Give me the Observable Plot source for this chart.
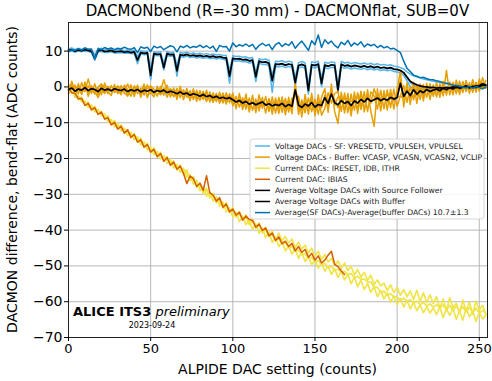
<!DOCTYPE html>
<html><head><meta charset="utf-8">
<script src="https://cdn.jsdelivr.net/npm/d3@7"></script>
<script src="https://cdn.jsdelivr.net/npm/@observablehq/plot@0.6"></script>
<style>html,body{margin:0;padding:0;background:#fff;} svg{display:block}</style>
</head><body><div id="chart"></div>
<script>
// ---- DATA ----
const dac = [0,2,4,6,8,10,12,14,16,18,20,22,24,26,28,30,
32,34,36,38,40,42,44,46,48,50,52,54,56,58,60,62,
64,66,68,70,72,74,76,78,80,82,84,86,88,90,92,94,
96,98,100,102,104,106,108,110,112,114,116,118,120,122,124,126,
128,130,132,134,136,138,140,142,144,146,148,150,152,154,156,158,
160,162,164,166,168,170,172,174,176,178,180,182,184,186,188,190,
192,194,196,198,200,202,204,206,208,210,212,214,216,218,220,222,
224,226,228,230,232,234,236,238,240,242,244,246,248,250,252,254];

const sfVRESETD = [10.6,10.9,10.4,10.8,10.5,10.9,10.6,10.3,9.0,10.5,10.8,10.3,10.5,10.7,10.2,10.4,
10.5,10.1,10.4,10.0,10.3,8.5,10.1,9.9,10.0,5.0,9.8,9.6,9.8,6.5,9.9,9.5,
9.7,6.0,9.6,9.4,9.7,9.3,9.5,9.2,9.4,9.1,9.3,9.0,9.2,8.9,9.1,8.8,
8.8,4.5,8.7,8.5,8.6,8.3,8.4,8.0,8.2,4.0,7.9,7.6,7.8,7.4,3.2,7.2,
7.1,7.3,6.9,7.2,7.0,2.5,6.8,7.1,6.7,0.5,7.0,6.8,7.2,2.3,6.9,6.6,
7.0,6.8,0.5,7.1,6.7,6.9,6.5,6.8,6.6,6.4,6.7,6.3,6.6,6.2,6.5,6.1,
6.3,6.0,6.2,5.8,5.7,5.4,5.0,4.2,3.6,3.1,2.8,2.5,2.2,2.0,1.8,1.6,
1.4,1.2,1.0,0.9,0.6,0.7,0.4,0.5,0.2,0.4,0.1,0.0,0.3,0.1,0.4,0.3];
const sfVPULSEH = [10.1,10.3,9.9,10.2,10.0,10.3,10.1,9.8,7.5,10.0,10.2,9.8,9.9,10.1,9.7,9.8,
9.9,9.6,9.8,9.5,9.7,7.0,9.5,9.3,9.4,2.5,9.2,9.0,9.1,5.0,9.2,8.9,
9.0,4.0,8.9,8.7,9.0,8.6,8.8,8.5,8.7,8.4,8.6,8.3,8.5,8.2,8.4,8.1,
8.0,2.5,7.9,7.7,7.8,7.5,7.6,7.2,7.4,2.3,7.1,6.8,6.9,6.5,1.3,6.3,
6.2,6.4,6.0,6.3,6.1,0.8,5.9,6.2,5.8,-1.5,6.1,5.9,6.3,0.6,6.0,5.7,
6.1,5.9,-1.3,6.2,5.8,6.0,5.6,5.9,5.7,5.5,5.8,5.4,5.7,5.3,5.6,5.2,
5.4,5.1,5.3,4.9,4.8,4.5,3.8,2.5,1.2,0.4,0.2,-0.1,-0.2,-0.3,-0.4,-0.3,
-0.5,-0.3,-0.6,-0.2,-0.4,-0.1,-0.3,0.0,-0.2,0.1,-0.1,-0.2,0.2,0.0,0.5,0.3];
const sfVPULSEL = [9.9,10.0,9.7,10.0,9.8,10.0,9.9,9.6,7.5,9.8,9.9,9.6,9.6,9.8,9.5,9.5,
9.6,9.4,9.5,9.3,9.4,6.5,9.2,9.0,9.1,2.0,8.9,8.7,8.7,4.7,8.8,8.6,
8.6,3.0,8.5,8.3,8.6,8.2,8.4,8.1,8.3,8.0,8.2,7.9,8.1,7.8,8.0,7.7,
7.5,1.0,7.4,7.2,7.3,7.0,7.1,6.7,6.9,1.5,6.6,6.3,6.3,5.9,-1.5,5.7,
5.6,5.8,5.4,5.7,5.5,0.3,5.3,5.6,5.2,-2.0,5.5,5.3,5.7,0.1,5.4,5.1,
5.5,5.3,-1.6,5.6,5.2,5.4,5.0,5.3,5.1,4.9,5.2,4.8,5.1,4.7,5.0,4.6,
4.8,4.5,4.7,4.3,4.2,3.9,3.2,1.7,0.0,-0.5,-1.0,-0.7,-0.5,-0.6,-0.8,-0.6,
-0.7,-0.5,-0.9,-0.4,-0.6,-0.3,-0.5,-0.2,-0.4,0.0,-0.3,-0.4,0.1,-0.2,0.6,0.4];

const bufVCASP = [0.8,-1.5,0.5,-2.0,1.2,-1.1,0.3,-1.8,0.9,-2.4,0.6,-0.2,-1.9,0.4,-1.6,0.1,
-2.2,0.5,-0.8,-2.6,0.3,-1.9,-0.4,-2.3,0.6,-1.5,-2.8,0.2,-2.1,-0.3,-2.9,-0.5,
-2.6,-0.4,-3.0,-0.8,-2.9,-1.0,-3.5,-0.9,-3.8,-1.2,-4.1,-1.4,-4.3,-1.8,-4.6,-1.7,
-4.8,-1.9,-5.3,-2.6,-5.6,-3.0,-6.2,-3.1,-6.5,-3.4,-6.7,-2.9,-7.3,-3.2,-7.6,-3.1,
-7.4,-2.8,-7.8,-2.9,-7.5,1.2,-7.7,-3.6,-7.2,-3.1,-6.9,-3.4,-7.6,-2.9,-0.5,-7.1,
0.8,-6.9,-10.2,-1.5,-7.3,-1.8,-8.1,-1.4,-7.4,-1.2,-7.0,-0.8,-6.8,-11.0,-0.6,-6.7,
-1.0,-6.5,-0.7,-6.2,-0.8,4.5,-5.6,1.2,-4.9,1.3,-4.6,0.8,-3.9,1.0,-3.5,0.6,
-2.8,0.9,-2.5,4.6,-2.2,1.3,-1.9,1.6,-1.6,1.8,-1.8,2.0,-1.5,2.2,-0.6,1.8];
const bufVCASN = [-1.9,0.6,-2.8,0.9,-2.1,1.4,-2.6,0.3,-1.4,-0.2,-2.2,1.1,-1.3,-2.4,0.7,-1.7,
0.4,-1.8,-2.4,0.6,-2.7,0.5,-2.9,0.4,-3.0,0.2,-0.6,-2.6,0.1,-2.3,0.5,-2.8,
-0.3,-3.5,0.2,-3.6,-0.4,-3.9,-0.5,-4.0,-1.0,-3.5,-0.9,-4.2,-1.6,-4.1,-1.5,-4.5,
-1.6,-4.4,-1.7,-6.1,-1.8,-6.3,-2.0,-7.0,-2.3,-7.2,-2.2,-6.0,-2.7,-6.9,-2.8,-7.3,
-2.9,-7.1,-3.2,-7.0,-3.1,-2.4,-2.6,-8.4,-2.1,-7.6,-1.8,-8.0,-2.2,-7.9,-6.0,-1.6,
-4.5,-1.9,-1.2,-6.8,-1.7,-7.2,-2.0,-6.5,-1.6,-6.3,-1.3,-6.9,-1.4,-2.5,-6.2,-0.9,
-6.1,-0.8,-5.8,-0.6,-5.4,-2.5,0.4,-4.3,0.1,-3.6,0.6,-3.5,0.7,-2.9,0.9,-2.6,
1.2,-2.9,1.6,-2.3,1.4,-2.2,1.9,-2.1,1.5,-1.3,1.2,-1.5,1.3,-1.2,2.6,-0.4];
const bufVCASN2 = [0.3,-0.9,-0.4,0.2,-1.8,0.6,-1.5,-0.3,-2.0,-0.1,0.9,-1.7,-0.2,-0.8,-1.2,0.3,
-0.6,-1.1,0.8,-1.4,-0.2,0.1,-2.0,-1.2,-0.5,0.3,-1.8,-0.4,-1.0,2.0,-1.1,-0.6,
-1.2,-2.6,-0.9,-1.5,-2.1,-1.4,-2.8,-1.7,-2.0,-2.9,-1.8,-3.1,-2.2,-3.4,-2.5,-3.0,
-2.7,-3.8,-3.0,-4.3,-3.4,-5.0,-3.6,-5.4,-4.2,-5.6,-4.0,-4.9,-4.6,-5.8,-4.4,-5.2,
-4.6,-5.5,-4.8,-4.2,-5.9,-0.3,-4.4,-6.4,-4.0,-5.8,-3.6,-6.9,-4.1,-5.8,-2.3,-3.9,
-1.5,-3.6,-5.8,-4.1,-3.2,-4.9,-3.9,-4.4,-2.6,-5.1,-3.3,-2.8,-4.4,-3.4,-2.1,-4.6,
-2.5,-4.2,-1.9,-3.9,-2.6,2.0,-3.1,-0.7,-2.9,-0.3,-2.4,-1.6,-1.0,-0.2,-1.7,-0.5,
-0.2,-1.4,0.3,-0.6,-0.7,-0.1,0.5,-0.9,0.2,0.6,-0.8,0.7,-0.4,1.1,1.0,0.5];
const bufVCLIP = [-1.8,1.6,-1.5,-0.4,-0.6,-1.3,2.2,-1.1,-1.2,-3.0,-0.8,-1.8,0.2,-1.2,-0.6,-1.8,
-1.4,-0.2,-2.6,-0.8,-1.6,-0.9,-1.2,0.8,-2.6,-1.5,-1.6,-0.9,-2.2,-1.0,-0.9,-1.5,
-2.7,-1.3,-1.9,-2.1,-2.2,-3.3,-1.2,-3.0,-3.4,-2.2,-3.8,-1.9,-4.1,-2.6,-4.0,-3.5,
-4.1,-2.5,-4.4,-4.0,-4.2,-3.9,-5.1,-4.6,-4.5,-4.6,-5.4,-4.0,-5.2,-3.6,-6.2,-4.2,
-5.9,-3.2,-6.1,-5.5,-5.1,-1.1,-6.4,-4.7,-5.7,-4.9,-5.3,-4.1,-5.6,-4.3,-3.3,-5.8,
-1.2,-5.2,-2.8,-2.9,-6.2,-2.5,-7.0,-3.3,-6.1,-1.5,-6.5,-2.4,-4.5,-0.5,-3.5,-3.1,
-3.0,-2.1,-3.4,-3.0,-2.8,-2.6,-3.1,-1.3,-1.8,-2.6,-1.0,0.0,-2.6,-0.7,-1.2,-1.9,
-1.3,-0.8,-1.8,-0.7,-0.1,-0.9,-0.6,-0.3,-1.0,0.8,-0.9,0.4,0.6,-0.8,0.4,0.2];

const curIRESET = [-0.2,-1.8,-1.5,-3.6,-2.8,-5.0,-4.2,-6.5,-5.4,-7.6,-6.8,-8.9,-8.0,-10.5,-9.3,-11.6,
-10.6,-12.9,-11.9,-14.2,-13.0,-15.5,-14.3,-16.9,-15.7,-18.4,-17.0,-19.6,-18.2,-20.7,-19.4,-22.0,
-20.6,-23.2,-21.8,-24.5,-23.1,-26.2,-25.0,-28.0,-26.8,-29.7,-28.3,-31.0,-29.7,-32.4,-31.0,-33.9,
-32.3,-35.1,-33.7,-36.4,-34.8,-37.3,-35.7,-38.4,-36.9,-39.5,-38.0,-40.8,-39.2,-41.9,-40.3,-43.0,
-40.8,-42.9,-41.8,-43.6,-42.5,-44.8,-43.4,-45.3,-44.2,-46.5,-45.0,-47.3,-45.9,-48.2,-46.8,-48.9,
-47.9,-49.8,-48.6,-50.7,-49.2,-51.3,-50.1,-52.5,-51.0,-53.1,-51.8,-54.0,-52.6,-55.2,-53.9,-55.6,
-54.8,-56.9,-55.3,-57.5,-56.0,-58.2,-56.6,-58.6,-57.0,-59.4,-56.8,-59.9,-57.5,-60.3,-58.1,-60.5,
-58.6,-61.8,-59.2,-62.5,-58.9,-61.6,-60.4,-63.0,-59.5,-62.8,-60.1,-63.5,-59.8,-62.4,-61.0,-63.6];
const curIDB = [-1.0,-0.9,-2.6,-2.4,-4.2,-3.9,-5.8,-5.0,-7.0,-6.3,-8.1,-7.5,-9.8,-9.1,-11.2,-10.3,
-12.3,-11.5,-13.6,-12.7,-14.8,-13.9,-16.2,-15.3,-17.6,-16.8,-18.9,-18.0,-20.1,-19.2,-21.4,-20.3,
-22.6,-21.6,-23.8,-22.7,-25.3,-24.5,-27.2,-26.1,-29.0,-27.9,-30.5,-29.2,-31.9,-30.7,-33.3,-32.1,
-34.9,-33.8,-36.4,-35.0,-37.6,-36.1,-38.5,-37.2,-39.8,-38.2,-40.9,-39.4,-42.1,-40.5,-43.4,-42.0,
-44.6,-43.3,-45.8,-44.4,-46.7,-45.2,-47.9,-46.1,-48.8,-47.3,-49.7,-48.2,-50.6,-49.1,-51.5,-50.0,
-52.4,-50.8,-53.2,-51.6,-53.9,-52.3,-55.0,-53.1,-55.8,-54.0,-56.6,-54.9,-57.4,-55.8,-58.6,-56.9,
-59.2,-57.6,-60.1,-58.4,-60.8,-59.1,-61.5,-59.6,-62.0,-60.2,-62.5,-60.9,-63.1,-61.4,-63.2,-61.8,
-63.6,-61.4,-64.5,-62.0,-63.8,-61.9,-64.9,-62.6,-65.2,-61.8,-64.3,-62.7,-65.5,-63.0,-64.8,-63.7];
const curITHR = [-0.8,-1.0,-2.4,-2.6,-3.4,-4.8,-4.6,-6.0,-6.0,-7.2,-7.0,-8.8,-8.6,-10.1,-10.0,-11.3,
-11.2,-12.6,-12.4,-13.8,-13.6,-15.1,-15.0,-16.5,-16.4,-17.9,-17.7,-19.0,-18.9,-20.3,-20.1,-21.5,
-21.3,-22.7,-22.4,-23.9,-23.9,-25.8,-25.7,-27.5,-27.6,-29.1,-29.0,-30.5,-30.4,-31.9,-31.8,-33.3,
-33.2,-34.7,-34.6,-35.9,-35.6,-36.9,-36.6,-37.9,-37.7,-39.1,-38.9,-40.3,-40.1,-41.5,-41.3,-42.7,
-42.5,-43.9,-43.6,-44.9,-44.6,-45.9,-45.6,-46.9,-46.6,-47.9,-47.6,-48.9,-48.5,-49.7,-49.3,-50.5,
-50.1,-51.3,-50.9,-51.7,-51.5,-52.5,-52.1,-53.3,-52.9,-53.7,-53.7,-54.5,-54.5,-55.9,-56.0,-57.4,
-57.0,-58.2,-57.8,-58.6,-58.6,-59.6,-59.0,-60.0,-59.4,-60.4,-59.8,-60.8,-60.2,-61.2,-60.6,-61.5,
-60.8,-61.7,-60.9,-62.3,-61.0,-62.4,-61.2,-62.6,-61.4,-62.8,-61.6,-63.0,-61.8,-63.2,-62.4,-63.3];
const curIBIAS = [-0.3,-1.6,-1.8,-3.3,-3.2,-5.2,-4.6,-6.4,-5.8,-7.7,-7.0,-9.0,-8.6,-10.6,-9.9,-11.8,
-11.0,-12.9,-12.0,-14.1,-13.3,-15.4,-14.8,-16.8,-16.1,-18.2,-17.4,-19.5,-18.6,-20.8,-19.7,-21.9,
-21.0,-23.0,-22.1,-24.2,-27.0,-24.9,-25.6,-27.8,-26.9,-28.9,-24.8,-29.6,-30.2,-31.9,-31.0,-33.6,
-32.7,-34.9,-34.1,-35.8,-35.0,-37.2,-36.1,-37.0,-37.3,-39.2,-38.3,-40.1,-39.4,-41.6,-40.8,-42.9,
-41.9,-43.8,-43.1,-44.6,-43.7,-45.8,-44.6,-46.2,-45.4,-47.6,-46.5,-48.4,-47.2,-49.2,-48.4,-47.0,
-45.9,-49.6,-50.2,-51.4,-52.4];

const avgSF = [10.2,10.4,10.0,10.3,10.1,10.4,10.2,9.9,8.0,10.1,10.3,9.9,10.0,10.2,9.8,9.9,
10.0,9.7,9.9,9.6,9.8,7.5,9.6,9.4,9.5,3.2,9.3,9.1,9.2,5.4,9.3,9.0,
9.1,4.5,9.0,8.8,9.1,8.7,8.9,8.6,8.8,8.5,8.7,8.4,8.6,8.3,8.5,8.2,
8.1,3.0,8.0,7.8,7.9,7.6,7.7,7.3,7.5,2.8,7.2,6.9,7.0,6.6,1.8,6.4,
6.3,6.5,6.1,6.4,6.2,1.2,6.0,6.3,5.9,-1.0,6.2,6.0,6.4,1.0,6.1,5.8,
6.2,6.0,-0.8,6.3,5.9,6.1,5.7,6.0,5.8,5.6,5.9,5.5,5.8,5.4,5.7,5.3,
5.5,5.2,5.4,5.0,4.9,4.6,4.0,2.8,1.6,1.0,0.6,0.3,0.1,0.0,-0.2,-0.1,
-0.3,-0.2,-0.4,-0.1,-0.3,0.0,-0.2,0.1,-0.1,0.2,0.0,-0.1,0.3,0.1,0.5,0.4];
const avgBuf = [-0.8,-0.3,-1.2,-0.6,-0.9,-0.2,-1.0,-0.5,-0.7,-1.3,-0.4,-0.9,-0.6,-1.1,-0.5,-0.8,
-1.0,-0.6,-1.3,-0.8,-1.1,-0.7,-1.4,-0.9,-1.2,-0.8,-1.5,-1.0,-1.3,-0.9,-1.6,-1.2,
-1.5,-1.9,-1.4,-2.0,-1.7,-2.3,-1.9,-2.2,-2.6,-2.1,-2.7,-2.4,-3.0,-2.6,-3.2,-2.9,
-3.3,-3.0,-3.6,-4.2,-3.8,-4.5,-4.1,-4.8,-4.4,-5.0,-4.6,-4.2,-5.1,-4.7,-5.3,-4.9,
-5.2,-4.6,-5.5,-4.9,-5.4,-0.8,-5.1,-5.7,-4.8,-5.3,-4.4,-5.6,-4.9,-5.2,-3.0,-4.6,
-2.0,-4.4,-5.0,-3.8,-4.6,-4.1,-5.2,-3.9,-4.5,-3.5,-4.2,-3.2,-4.0,-3.6,-3.1,-3.8,
-3.3,-3.7,-2.9,-3.4,-3.0,1.0,-2.6,-1.2,-2.4,-0.8,-2.0,-1.1,-1.6,-0.7,-1.3,-0.9,
-0.6,-1.1,-0.3,-0.8,-0.2,-0.6,0.1,-0.4,-0.1,0.3,-0.3,0.2,-0.2,0.4,0.9,0.6];
const diffSFBuf = [9.8,10.4,10.2,10.7,10.3,10.9,10.5,10.6,7.8,10.8,10.4,11.0,10.6,10.9,10.4,10.8,
10.6,11.1,10.7,10.5,11.0,9.6,11.2,10.8,11.1,9.9,11.4,10.9,11.3,10.4,11.0,11.5,
11.2,9.8,11.4,11.0,11.6,10.9,11.3,11.1,11.7,11.0,11.5,10.8,11.4,9.9,11.6,11.2,
11.3,10.0,12.3,11.2,11.8,11.4,12.0,11.3,11.9,10.5,11.6,12.2,11.5,11.9,10.4,11.8,
12.4,11.3,12.1,11.6,12.6,10.8,11.9,12.8,11.5,10.2,12.9,11.8,14.5,11.0,13.2,12.1,
12.8,11.6,10.9,12.5,11.8,13.0,11.4,12.3,11.7,12.6,11.2,12.0,11.5,11.9,11.0,11.6,
10.9,11.3,10.6,10.8,10.2,9.6,7.2,5.2,4.3,3.3,3.0,2.6,2.7,2.3,2.1,2.0,
1.7,1.5,1.2,1.0,0.8,0.5,0.4,0.2,0.0,-0.3,0.2,-0.4,0.1,-0.2,-0.5,-0.1];

const xTicks = [0, 50, 100, 150, 200, 250];
const yTicks = [-70, -60, -50, -40, -30, -20, -10, 0, 10];
const legendLabels = [
  "Voltage DACs - SF: VRESETD, VPULSEH, VPULSEL",
  "Voltage DACs - Buffer: VCASP, VCASN, VCASN2, VCLIP",
  "Current DACs: IRESET, IDB, ITHR",
  "Current DAC: IBIAS",
  "Average Voltage DACs with Source Follower",
  "Average Voltage DACs with Buffer",
  "Average(SF DACs)-Average(buffer DACs) 10.7±1.3"
];
const legendColors = ["#56B4E9", "#E69F00", "#F0E442", "#D55E00", "#000000", "#000000", "#0072B2"];
const titleText = "DACMONbend (R=-30 mm) - DACMONflat, SUB=0V";
const xLabel = "ALPIDE DAC setting (counts)";
const yLabel = "DACMON difference, bend-flat (ADC counts)";

// ---- BUILD ----
function rows(vals, name) { return vals.map((v, i) => ({x: dac[i], y: v, s: name})); }
const sfRows = [...rows(sfVRESETD, "VRESETD"), ...rows(sfVPULSEH, "VPULSEH"), ...rows(sfVPULSEL, "VPULSEL")];
const bufRows = [...rows(bufVCASP, "VCASP"), ...rows(bufVCASN, "VCASN"), ...rows(bufVCASN2, "VCASN2"), ...rows(bufVCLIP, "VCLIP")];
const curRows = [...rows(curIRESET, "IRESET"), ...rows(curIDB, "IDB"), ...rows(curITHR, "ITHR")];
const ibRows = rows(curIBIAS, "IBIAS");
const avgSFRows = rows(avgSF, "avgSF");
const avgBufRows = rows(avgBuf, "avgBuf");
const diffRows = rows(diffSFBuf, "diff");

const W = 492, H = 381, mL = 68, mR = 5, mT = 22, mB = 44;
const chart = Plot.plot({
  width: W, height: H,
  marginLeft: mL, marginRight: mR, marginTop: mT, marginBottom: mB,
  style: {fontFamily: "DejaVu Sans", fontSize: "14px", color: "#000", background: "#fff", overflow: "visible"},
  x: {domain: [0, 255], label: null},
  y: {domain: [-70, 18], label: null},
  marks: [
    Plot.gridX(xTicks, {stroke: "#b0b0b0", strokeOpacity: 1, strokeWidth: 0.9}),
    Plot.gridY(yTicks, {stroke: "#b0b0b0", strokeOpacity: 1, strokeWidth: 0.9}),
    Plot.line(sfRows, {x: "x", y: "y", z: "s", stroke: legendColors[0], strokeWidth: 1.5}),
    Plot.line(bufRows, {x: "x", y: "y", z: "s", stroke: legendColors[1], strokeWidth: 1.5}),
    Plot.line(curRows, {x: "x", y: "y", z: "s", stroke: legendColors[2], strokeWidth: 1.6}),
    Plot.line(ibRows, {x: "x", y: "y", stroke: legendColors[3], strokeWidth: 1.5}),
    Plot.line(avgSFRows, {x: "x", y: "y", stroke: legendColors[4], strokeWidth: 1.7}),
    Plot.line(avgBufRows, {x: "x", y: "y", stroke: legendColors[5], strokeWidth: 1.7}),
    Plot.line(diffRows, {x: "x", y: "y", stroke: legendColors[6], strokeWidth: 1.5}),
    Plot.frame({stroke: "#222", strokeWidth: 1}),
    Plot.axisX(xTicks, {tickSize: 4, tickPadding: 2, fontSize: 13, label: null}),
    Plot.axisY(yTicks, {tickSize: 4, tickPadding: 2, fontSize: 14, label: null})
  ]
});
document.getElementById("chart").append(chart);

const svg = d3.select(chart);
const cx = (mL + W - mR) / 2, cy = (mT + H - mB) / 2;
svg.append("text").attr("x", cx).attr("y", 16).attr("text-anchor", "middle")
  .attr("font-size", 15).attr("fill", "#000").text(titleText);
svg.append("text").attr("x", cx).attr("y", 374).attr("text-anchor", "middle")
  .attr("font-size", 14).attr("fill", "#000").text(xLabel);
svg.append("text").attr("transform", `translate(17,${cy}) rotate(-90)`).attr("text-anchor", "middle")
  .attr("font-size", 14).attr("fill", "#000").text(yLabel);

// annotation
const ann = svg.append("text").attr("x", 73).attr("y", 316).attr("text-anchor", "start")
  .attr("font-size", 13).attr("fill", "#000");
ann.append("tspan").attr("font-weight", "bold").text("ALICE ITS3");
ann.append("tspan").attr("font-style", "italic").text(" preliminary");
svg.append("text").attr("x", 152).attr("y", 328).attr("text-anchor", "middle")
  .attr("font-size", 8).attr("fill", "#000").text("2023-09-24");

// legend
const lg = svg.append("g").attr("text-anchor", "start");
const lx = 250, ly = 139, lw = 234, lh = 80, step = 11.1;
lg.append("rect").attr("x", lx).attr("y", ly).attr("width", lw).attr("height", lh).attr("rx", 3)
  .attr("fill", "#fff").attr("fill-opacity", 0.85).attr("stroke", "#cccccc").attr("stroke-width", 0.8);
legendLabels.forEach((t, i) => {
  const yy = ly + 7 + i * step;
  lg.append("line").attr("x1", lx + 5).attr("x2", lx + 20).attr("y1", yy).attr("y2", yy)
    .attr("stroke", legendColors[i]).attr("stroke-width", 1.5);
  lg.append("text").attr("x", lx + 25).attr("y", yy + 2.8).attr("text-anchor", "start")
    .attr("font-size", 7.7).attr("fill", "#222").text(t);
});
</script>
</body></html>
